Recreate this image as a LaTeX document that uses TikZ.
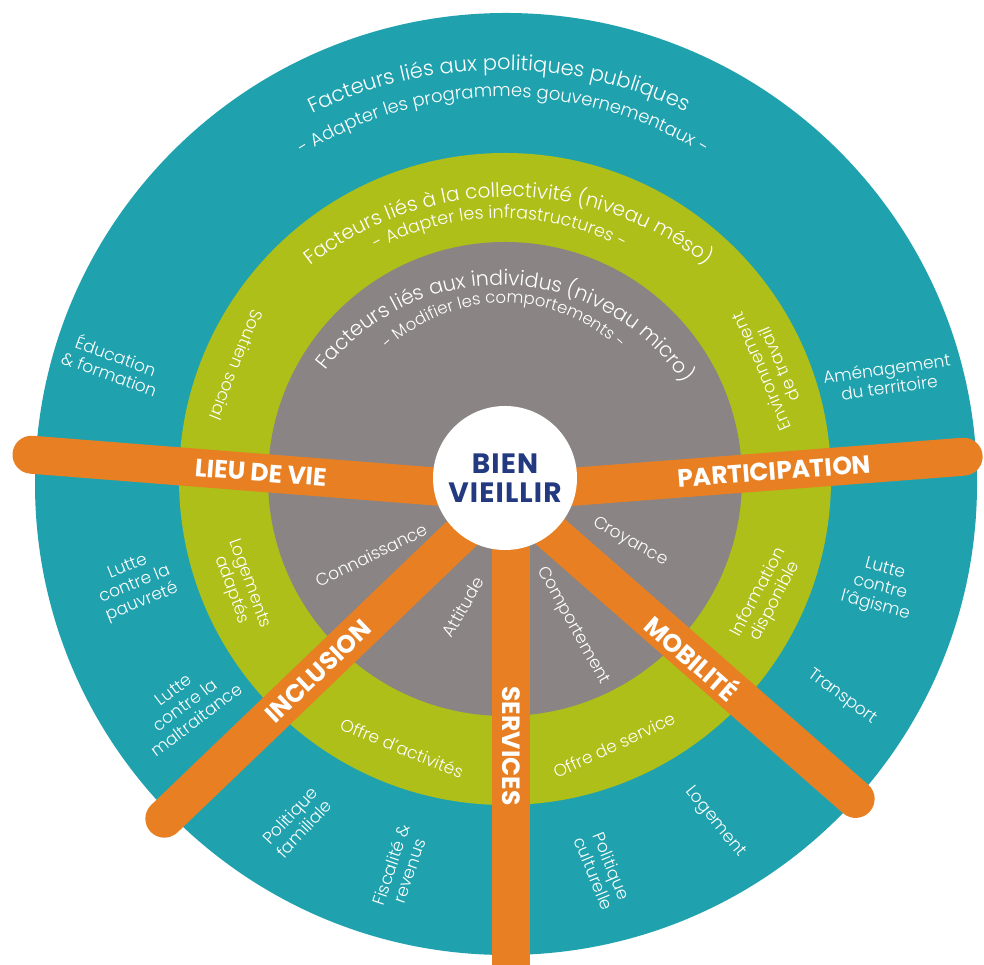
\documentclass[tikz,border=0pt]{standalone}
\usepackage{fontspec}
\setmainfont{Poppins}
\newfontfamily\lightfont{Poppins Light}
\usetikzlibrary{calc,decorations.text}

\definecolor{ringteal}{RGB}{31,162,174}
\definecolor{ringgreen}{RGB}{173,191,24}
\definecolor{ringgray}{RGB}{138,132,133}
\definecolor{barorange}{RGB}{232,128,35}
\definecolor{bvnavy}{RGB}{36,58,128}

\tikzset{
  ringlabel/.style={text=white, align=center, inner sep=0pt,
    font=\lightfont\fontsize{17}{19}\selectfont},
  barlabel/.style={text=white, inner sep=0pt,
    font=\bfseries\fontsize{25}{27}\selectfont},
  bar/.style={draw=barorange, line width=38pt, line cap=round},
}

\begin{document}
\begin{tikzpicture}[x=1pt, y=1pt]
  \useasboundingbox (0,0) rectangle (984,965);
  % rings
  \fill[ringteal] (506,481) circle[radius=471];
  \fill[ringgreen] (505,486) circle[radius=326];
  \fill[ringgray] (505,486) circle[radius=237];

  % curved titles
  \path[shift={(501,465)}, decorate, decoration={text along path, text align=center,
      text={|\color{white}\lightfont\fontsize{21}{23}\selectfont|Facteurs liés aux politiques publiques}}]
    (170.3:430) arc[start angle=170.3, end angle=10.3, radius=430];
  \path[shift={(504,488)}, decorate, decoration={text along path, text align=center,
      text={|\color{white}\lightfont\fontsize{18}{20}\selectfont|- Adapter les programmes gouvernementaux -}}]
    (170.1:380) arc[start angle=170.1, end angle=10.1, radius=380];
  \path[shift={(509,448)}, decorate, decoration={text along path, text align=center,
      text={|\color{white}\lightfont\fontsize{20}{22}\selectfont|Facteurs liés à la collectivité (niveau méso)}}]
    (170.1:320) arc[start angle=170.1, end angle=10.1, radius=320];
  \path[shift={(501,487)}, decorate, decoration={text along path, text align=center,
      text={|\color{white}\lightfont\fontsize{17.5}{19}\selectfont|- Adapter les infrastructures -}}]
    (170.3:260) arc[start angle=170.3, end angle=10.3, radius=260];
  \path[shift={(500,460)}, decorate, decoration={text along path, text align=center,
      text={|\color{white}\lightfont\fontsize{20.5}{22}\selectfont|Facteurs liés aux individus (niveau micro)}}]
    (168:220) arc[start angle=168, end angle=8, radius=220];
  \path[shift={(504,494)}, decorate, decoration={text along path, text align=center,
      text={|\color{white}\lightfont\fontsize{16.5}{18}\selectfont|- Modifier les comportements -}}]
    (170:168) arc[start angle=170, end angle=10, radius=168];

  % outer ring
  \node[ringlabel, rotate=-20] (edu) at (113,601) {Éducation\\\& formation};
  \node[ringlabel, rotate=8] (amen) at (888,587) {Aménagement\\du territoire};
  \node[ringlabel, rotate=22] (pauv) at (135,380) {Lutte\\contre la\\pauvreté};
  \node[ringlabel, rotate=37] (maltr) at (185,260) {Lutte\\contre la\\maltraitance};
  \node[ringlabel, rotate=47] (famil) at (297,143) {Politique\\familiale};
  \node[ringlabel, rotate=71] (fisc) at (400,97) {Fiscalité \&\\revenus};
  \node[ringlabel, rotate=-68] (cult) at (603,95) {Politique\\culturelle};
  \node[ringlabel, rotate=-51] (logt) at (715,143) {Logement};
  \node[ringlabel, rotate=-36] (transp) at (842,268) {Transport};
  \node[ringlabel, rotate=-15] (agism) at (880,377) {Lutte\\contre\\l’âgisme};

  % middle ring
  \node[ringlabel, rotate=-112] (soutien) at (237,600) {Soutien social};
  \node[ringlabel, rotate=113] (envtrav) at (770,597) {Environnement\\de travail};
  \node[ringlabel, rotate=-70] (logad) at (240,378) {Logements\\adaptés};
  \node[ringlabel, rotate=62] (info) at (767,368) {Information\\disponible};
  \node[ringlabel, rotate=-22] (offact) at (402,217) {Offre d’activités};
  \node[ringlabel, rotate=25] (offserv) at (614,220) {Offre de service};

  % inner ring
  \node[ringlabel, rotate=26] (conn) at (371,410) {Connaissance};
  \node[ringlabel, rotate=60] (att) at (463,358) {Attitude};
  \node[ringlabel, rotate=-61] (comp) at (573,339) {Comportement};
  \node[ringlabel, rotate=-29] (croy) at (630,423) {Croyance};

  % bars
  \coordinate (hub) at (505,473);
  \coordinate (hubs) at (511,473);
  \draw[bar] (hub) -- ++(175.5:475);
  \draw[bar] (hub) -- ++(4.4:460);
  \draw[bar] (hub) -- ++(223.8:472);
  \draw[bar] (hub) -- ++(-41.2:466);
  \draw[bar] (hubs) -- ++(0,-490);
  \node[barlabel, rotate=-4.5] (lieu) at ($(hub)+(175.5:245)$) {LIEU DE VIE};
  \node[barlabel, rotate=4.4] (particip) at ($(hub)+(4.4:270)$) {PARTICIPATION};
  \node[barlabel, rotate=43.8] (inclu) at ($(hub)+(223.8:259)$) {INCLUSION};
  \node[barlabel, rotate=-41.2] (mobi) at ($(hub)+(-41.2:250)$) {MOBILITÉ};
  \node[barlabel, rotate=-90] (servi) at ($(hubs)+(0,-254)$) {SERVICES};

  % centre
  \node[circle, fill=white, minimum size=144pt, inner sep=0pt, align=center,
    text=bvnavy, font=\bfseries\fontsize{28}{29}\selectfont\addfontfeatures{LetterSpace=4}]
    (bv) at (505,487) {BIEN\\VIEILLIR};
\end{tikzpicture}
\end{document}
